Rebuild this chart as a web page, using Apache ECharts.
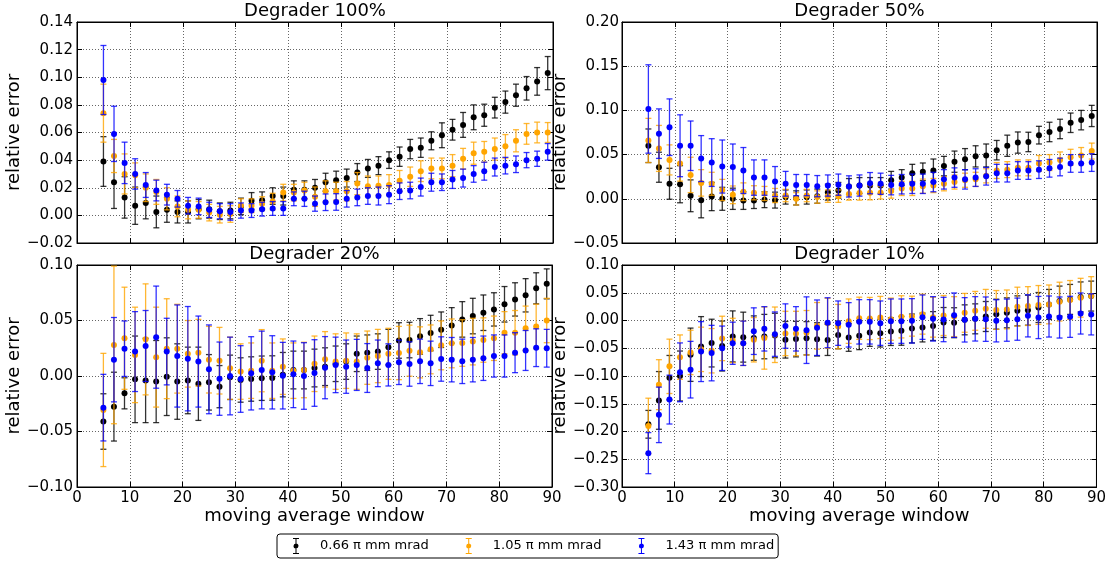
<!DOCTYPE html>
<html><head><meta charset="utf-8">
<script src="https://cdn.jsdelivr.net/npm/echarts@6/dist/echarts.min.js"></script>
<style>html,body{margin:0;padding:0;background:#fff}#c{width:1109px;height:562px}</style>
</head><body><div id="c"></div>
<script>
// moving average window (x)
const windows = [5,7,9,11,13,15,17,19,21,23,25,27,29,31,33,35,37,39,41,43,45,47,49,51,53,55,57,59,61,63,65,67,69,71,73,75,77,79,81,83,85,87,89];

const seriesNames = ['0.66 \u03c0 mm mrad', '1.05 \u03c0 mm mrad', '1.43 \u03c0 mm mrad'];
const seriesColors = ['#000000', '#FFA500', '#0000FF'];
const panelTitles = ['Degrader 100%', 'Degrader 50%', 'Degrader 20%', 'Degrader 10%'];

// Degrader 100%
const d100_066 = [0.039,0.024,0.013,0.007,0.009,0.0025,0.004,0.0025,0.0025,0.0045,0.0045,0.003,0.0035,0.0065,0.0105,0.011,0.014,0.014,0.0185,0.0185,0.02,0.024,0.0255,0.027,0.031,0.034,0.036,0.040,0.0425,0.048,0.049,0.054,0.058,0.062,0.0655,0.071,0.0725,0.078,0.082,0.087,0.092,0.097,0.103];
const d100_105 = [0.074,0.043,0.030,0.029,0.020,0.017,0.012,0.0065,0.004,0.004,0.002,0.0005,0.001,0.007,0.007,0.0085,0.010,0.0165,0.0165,0.018,0.0135,0.0175,0.0175,0.0175,0.023,0.021,0.0215,0.022,0.025,0.028,0.032,0.034,0.034,0.036,0.041,0.045,0.046,0.048,0.050,0.054,0.059,0.060,0.060];
const d100_143 = [0.098,0.059,0.038,0.030,0.022,0.018,0.015,0.012,0.007,0.0065,0.004,0.003,0.0025,0.0035,0.0035,0.0045,0.005,0.005,0.012,0.012,0.0085,0.0095,0.0097,0.012,0.013,0.014,0.014,0.015,0.0175,0.018,0.0205,0.024,0.024,0.026,0.027,0.030,0.032,0.035,0.036,0.037,0.040,0.041,0.046];
const e100_066 = [0.018,0.019,0.015,0.0135,0.0115,0.0115,0.009,0.008,0.008,0.007,0.0065,0.006,0.006,0.006,0.006,0.006,0.006,0.0065,0.0065,0.0065,0.006,0.0065,0.0065,0.0065,0.0065,0.0065,0.0065,0.006,0.007,0.007,0.007,0.0065,0.009,0.0075,0.009,0.009,0.008,0.0075,0.008,0.008,0.0085,0.01,0.012];
const e100_105 = [0.021,0.012,0.0145,0.009,0.01,0.009,0.008,0.0075,0.0065,0.006,0.006,0.006,0.006,0.005,0.005,0.005,0.006,0.006,0.006,0.006,0.007,0.0075,0.0065,0.007,0.008,0.0075,0.007,0.0075,0.0075,0.007,0.0075,0.0075,0.0075,0.008,0.0075,0.008,0.0075,0.008,0.0085,0.008,0.0075,0.0075,0.0072];
const e100_143 = [0.025,0.02,0.015,0.011,0.009,0.0075,0.0075,0.006,0.006,0.006,0.0055,0.0055,0.006,0.0055,0.005,0.005,0.005,0.005,0.005,0.0055,0.0055,0.006,0.006,0.006,0.006,0.006,0.0065,0.0065,0.006,0.006,0.0065,0.0065,0.006,0.0065,0.0065,0.006,0.0065,0.0065,0.006,0.006,0.0055,0.0055,0.006];

// Degrader 50%
const d50_066 = [0.060,0.0357,0.017,0.0165,0.0034,-0.0015,0.0026,0.000,0.000,-0.002,-0.002,-0.001,-0.0015,0.002,0.001,0.002,0.003,0.0075,0.0095,0.0139,0.015,0.015,0.015,0.021,0.024,0.029,0.0305,0.032,0.037,0.042,0.0448,0.048,0.049,0.055,0.060,0.0636,0.0643,0.072,0.0756,0.079,0.086,0.089,0.0937];
const d50_105 = [0.066,0.057,0.044,0.040,0.027,0.018,0.017,0.010,0.0045,0.008,0.0068,0.006,0.0037,0.0037,0.0,0.0037,0.002,0.003,0.003,0.0055,0.0065,0.0068,0.0068,0.0087,0.0117,0.0117,0.0143,0.015,0.017,0.019,0.021,0.022,0.026,0.032,0.033,0.035,0.035,0.040,0.041,0.044,0.047,0.049,0.054];
const d50_143 = [0.1016,0.0737,0.081,0.060,0.060,0.0455,0.041,0.0365,0.036,0.032,0.024,0.024,0.0195,0.017,0.0155,0.0155,0.0143,0.015,0.016,0.014,0.015,0.0177,0.017,0.0155,0.0165,0.017,0.017,0.019,0.022,0.024,0.022,0.024,0.0255,0.029,0.029,0.032,0.032,0.033,0.0345,0.036,0.040,0.040,0.041];
const e50_066 = [0.019,0.017,0.0175,0.021,0.018,0.02,0.016,0.013,0.012,0.01,0.009,0.009,0.009,0.008,0.008,0.008,0.008,0.009,0.009,0.009,0.009,0.009,0.009,0.01,0.009,0.01,0.01,0.013,0.011,0.012,0.012,0.012,0.013,0.011,0.012,0.012,0.011,0.01,0.011,0.011,0.011,0.011,0.012];
const e50_105 = [0.025,0.026,0.017,0.02,0.02,0.015,0.013,0.012,0.01,0.01,0.008,0.008,0.008,0.007,0.007,0.007,0.007,0.007,0.007,0.007,0.008,0.008,0.007,0.008,0.008,0.008,0.008,0.008,0.008,0.008,0.008,0.008,0.008,0.009,0.009,0.009,0.009,0.009,0.009,0.009,0.009,0.009,0.009];
const e50_143 = [0.05,0.028,0.032,0.035,0.028,0.026,0.027,0.03,0.026,0.026,0.02,0.02,0.017,0.014,0.012,0.012,0.012,0.012,0.012,0.012,0.012,0.012,0.012,0.011,0.011,0.011,0.011,0.011,0.011,0.011,0.011,0.01,0.01,0.01,0.01,0.01,0.01,0.01,0.01,0.01,0.01,0.01,0.01];

// Degrader 20%
const d20_066 = [-0.041,-0.0276,-0.0156,-0.003,-0.004,-0.005,-0.0006,-0.005,-0.004,-0.007,-0.0057,-0.0096,-0.0012,-0.0036,-0.0027,-0.002,-0.0018,0.0012,0.0054,0.0054,0.0072,0.0084,0.011,0.013,0.020,0.021,0.022,0.026,0.032,0.0324,0.0357,0.0387,0.0417,0.0456,0.051,0.054,0.057,0.060,0.0646,0.069,0.0727,0.079,0.083];
const d20_105 = [-0.0306,0.028,0.034,0.019,0.033,0.017,0.0246,0.0246,0.020,0.021,0.0147,0.0138,0.007,0.004,0.0048,0.0138,0.0048,0.0084,0.0048,0.0054,0.011,0.015,0.013,0.0138,0.013,0.0165,0.018,0.020,0.0207,0.0228,0.0213,0.024,0.0276,0.0294,0.0297,0.031,0.0324,0.034,0.039,0.039,0.043,0.0447,0.050];
const d20_143 = [-0.0285,0.0147,0.0246,0.022,0.027,0.035,0.022,0.018,0.0156,0.013,0.006,-0.0024,0.0,-0.0027,0.0024,0.0054,0.0033,0.0003,0.0015,0.0,0.0027,0.0075,0.010,0.0084,0.010,0.0072,0.0114,0.010,0.0123,0.0108,0.0132,0.0114,0.0153,0.0147,0.0132,0.0147,0.016,0.018,0.018,0.021,0.023,0.0255,0.025];
const e20_066 = [0.025,0.031,0.014,0.039,0.038,0.037,0.035,0.034,0.03,0.033,0.025,0.019,0.02,0.02,0.02,0.02,0.02,0.02,0.017,0.017,0.017,0.017,0.016,0.016,0.016,0.016,0.016,0.016,0.016,0.016,0.016,0.016,0.016,0.016,0.016,0.016,0.016,0.015,0.016,0.015,0.015,0.014,0.0135];
const e20_105 = [0.051,0.071,0.046,0.043,0.05,0.045,0.045,0.04,0.03,0.03,0.03,0.03,0.028,0.025,0.025,0.028,0.025,0.025,0.025,0.025,0.025,0.025,0.025,0.025,0.025,0.024,0.024,0.023,0.024,0.023,0.023,0.022,0.022,0.022,0.021,0.021,0.02,0.02,0.019,0.02,0.02,0.02,0.02];
const e20_143 = [0.030,0.038,0.025,0.036,0.032,0.046,0.03,0.046,0.047,0.041,0.04,0.033,0.035,0.03,0.033,0.035,0.033,0.03,0.03,0.03,0.03,0.028,0.025,0.024,0.023,0.022,0.021,0.019,0.02,0.02,0.02,0.02,0.02,0.02,0.02,0.02,0.02,0.019,0.019,0.018,0.018,0.017,0.017];

// Degrader 10%
const d10_066 = [-0.187,-0.144,-0.103,-0.100,-0.0617,-0.047,-0.0407,-0.046,-0.0287,-0.030,-0.0317,-0.029,-0.027,-0.0347,-0.0335,-0.032,-0.034,-0.035,-0.026,-0.0305,-0.0275,-0.0216,-0.0228,-0.020,-0.0186,-0.0144,-0.0126,-0.010,-0.0036,-0.004,0.0012,0.003,0.0072,0.0114,0.0138,0.0174,0.0186,0.0234,0.029,0.035,0.038,0.0425,0.044];
const d10_105 = [-0.190,-0.1156,-0.0826,-0.066,-0.0575,-0.052,-0.0545,-0.0323,-0.036,-0.041,-0.0347,-0.0317,-0.0257,-0.0234,-0.0234,-0.022,-0.0096,-0.005,-0.011,-0.0012,0.004,0.0036,0.0054,0.0024,0.0066,0.0078,0.0114,0.006,0.009,0.007,0.0138,0.0174,0.021,0.019,0.020,0.025,0.026,0.028,0.029,0.034,0.037,0.041,0.044];
const d10_143 = [-0.239,-0.170,-0.1425,-0.0934,-0.0886,-0.056,-0.0587,-0.050,-0.041,-0.041,-0.0192,-0.015,-0.0246,-0.010,-0.015,-0.0174,-0.013,-0.004,-0.0048,-0.0078,-0.0024,-0.0024,-0.0048,-0.0012,-0.0012,-0.0006,0.006,0.003,0.0018,0.0096,0.0012,0.003,0.0024,-0.0006,0.0006,0.0024,0.0084,0.0054,0.0072,0.0054,0.0066,0.0126,0.011];
const e10_066 = [0.025,0.052,0.04,0.045,0.048,0.054,0.043,0.045,0.046,0.045,0.04,0.04,0.04,0.033,0.032,0.03,0.03,0.028,0.025,0.025,0.025,0.025,0.025,0.025,0.026,0.026,0.026,0.026,0.027,0.027,0.027,0.027,0.027,0.027,0.027,0.027,0.027,0.027,0.027,0.027,0.027,0.027,0.027];
const e10_105 = [0.05,0.045,0.049,0.04,0.04,0.04,0.04,0.04,0.04,0.04,0.04,0.056,0.05,0.04,0.04,0.04,0.042,0.045,0.04,0.04,0.038,0.038,0.038,0.038,0.038,0.036,0.036,0.036,0.036,0.036,0.035,0.035,0.035,0.035,0.035,0.035,0.035,0.035,0.035,0.035,0.035,0.035,0.035];
const e10_143 = [0.037,0.05,0.044,0.053,0.051,0.054,0.05,0.04,0.038,0.04,0.042,0.04,0.04,0.04,0.04,0.06,0.05,0.045,0.04,0.04,0.04,0.04,0.04,0.04,0.04,0.04,0.04,0.04,0.04,0.04,0.04,0.04,0.04,0.038,0.038,0.038,0.038,0.038,0.037,0.037,0.037,0.037,0.037];

// y-axis tick ranges per panel
const yMin = [-0.02, -0.05, -0.10, -0.30];
const yMax = [0.14, 0.20, 0.10, 0.10];
const yStep = [0.02, 0.05, 0.05, 0.05];

const panelValues = [[d100_066, d100_105, d100_143],[d50_066, d50_105, d50_143],[d20_066, d20_105, d20_143],[d10_066, d10_105, d10_143]];
const panelErrors = [[e100_066, e100_105, e100_143],[e50_066, e50_105, e50_143],[e20_066, e20_105, e20_143],[e10_066, e10_105, e10_143]];

const FONT = 'DejaVu Sans';
const gridPos = [
  {left: 77, top: 22, width: 476, height: 221},
  {left: 622, top: 22, width: 475, height: 221},
  {left: 77, top: 265, width: 475, height: 222},
  {left: 622, top: 265, width: 475, height: 222}
];

function fmtY(v){ if (Math.abs(v) < 1e-9) v = 0; return v.toFixed(2).replace('-', '\u2212'); }

const grids = [], xAxes = [], yAxes = [], series = [], titles = [];
const tickStyle = {show: true, inside: true, length: 5, lineStyle: {color: '#000', width: 1}};
const splitStyle = {show: true, lineStyle: {color: '#666', width: 1, type: [1, 2]}};

gridPos.forEach((g, i) => {
  grids.push(Object.assign({show: true, borderColor: '#000', borderWidth: 1, backgroundColor: '#fff', containLabel: false}, g));
  const bottomRow = i >= 2;
  const leftCol = i % 2 === 0;
  titles.push({text: panelTitles[i], left: g.left + g.width / 2, top: bottomRow ? 245 : 2, textAlign: 'center', padding: 0,
    textStyle: {fontFamily: FONT, fontSize: 18, fontWeight: 'normal', color: '#000'}});
  xAxes.push({gridIndex: i, type: 'value', min: 0, max: 90, interval: 10, position: 'bottom',
    axisLine: {show: true, onZero: false, lineStyle: {color: '#000'}}, axisTick: tickStyle,
    axisLabel: {show: bottomRow, fontFamily: FONT, fontSize: 15, color: '#000', margin: 4},
    splitLine: splitStyle,
    name: bottomRow ? 'moving average window' : '', nameLocation: 'middle', nameGap: 20,
    nameTextStyle: {fontFamily: FONT, fontSize: 18, color: '#000'}});
  xAxes.push({gridIndex: i, type: 'value', min: 0, max: 90, interval: 10, position: 'top',
    axisLine: {show: true, onZero: false, lineStyle: {color: '#000'}}, axisTick: tickStyle,
    axisLabel: {show: false}, splitLine: {show: false}});
  yAxes.push({gridIndex: i, type: 'value', min: yMin[i], max: yMax[i], interval: yStep[i], position: 'left',
    axisLine: {show: true, onZero: false, lineStyle: {color: '#000'}}, axisTick: tickStyle,
    axisLabel: {fontFamily: FONT, fontSize: 15, color: '#000', margin: leftCol ? 4 : 3, formatter: fmtY},
    splitLine: splitStyle,
    name: 'relative error', nameLocation: 'middle', nameGap: leftCol ? 46 : 47,
    nameTextStyle: {fontFamily: FONT, fontSize: 18, color: '#000'}});
  yAxes.push({gridIndex: i, type: 'value', min: yMin[i], max: yMax[i], interval: yStep[i], position: 'right',
    axisLine: {show: true, onZero: false, lineStyle: {color: '#000'}}, axisTick: tickStyle,
    axisLabel: {show: false}, splitLine: {show: false}});

  for (let j = 0; j < 3; j++) {
    const vals = panelValues[i][j], errs = panelErrors[i][j];
    series.push({
      type: 'custom', name: seriesNames[j], xAxisIndex: 2 * i, yAxisIndex: 2 * i,
      clip: true, z: 2 + j * 2,
      itemStyle: {color: seriesColors[j]},
      encode: {x: 0, y: 1},
      data: windows.map((x, k) => [x, vals[k], errs[k]]),
      renderItem: function (params, api) {
        const x = api.value(0), y = api.value(1), e = api.value(2);
        const hi = api.coord([x, y + e]);
        const lo = api.coord([x, y - e]);
        const c = api.visual('color');
        const w = 3;
        const st = {stroke: c, lineWidth: 1.3, opacity: 0.8};
        return {type: 'group', children: [
          {type: 'line', shape: {x1: hi[0], y1: hi[1], x2: lo[0], y2: lo[1]}, style: st},
          {type: 'line', shape: {x1: hi[0] - w, y1: hi[1], x2: hi[0] + w, y2: hi[1]}, style: st},
          {type: 'line', shape: {x1: lo[0] - w, y1: lo[1], x2: lo[0] + w, y2: lo[1]}, style: st}
        ]};
      }
    });
    series.push({
      type: 'scatter', name: seriesNames[j], xAxisIndex: 2 * i, yAxisIndex: 2 * i,
      z: 3 + j * 2, symbol: 'circle', symbolSize: 6,
      itemStyle: {color: seriesColors[j], opacity: 1},
      data: windows.map((x, k) => [x, vals[k]])
    });
  }
});

const legendIcon = 'path://M0,0H6V1H0Z M2.5,1H3.5V15H2.5Z M0,15H6V16H0Z M3,5.5A2.5,2.5,0,1,1,2.99,5.5Z';

const option = {
  animation: false,
  backgroundColor: '#fff',
  title: titles,
  grid: grids,
  xAxis: xAxes,
  yAxis: yAxes,
  legend: {
    left: 277, top: 534, orient: 'horizontal',
    padding: [4, 4, 4, 16], itemGap: 37, itemWidth: 6, itemHeight: 16,
    borderColor: '#000', borderWidth: 1, borderRadius: 3,
    selectedMode: false,
    textStyle: {fontFamily: FONT, fontSize: 13, color: '#000', padding: [0, 0, 0, 16]},
    data: seriesNames.map((n, j) => ({name: n, icon: legendIcon, itemStyle: {color: seriesColors[j]}}))
  },
  series: series
};

const chart = echarts.init(document.getElementById('c'), null, {renderer: 'canvas'});
chart.setOption(option);
</script>
</body></html>
